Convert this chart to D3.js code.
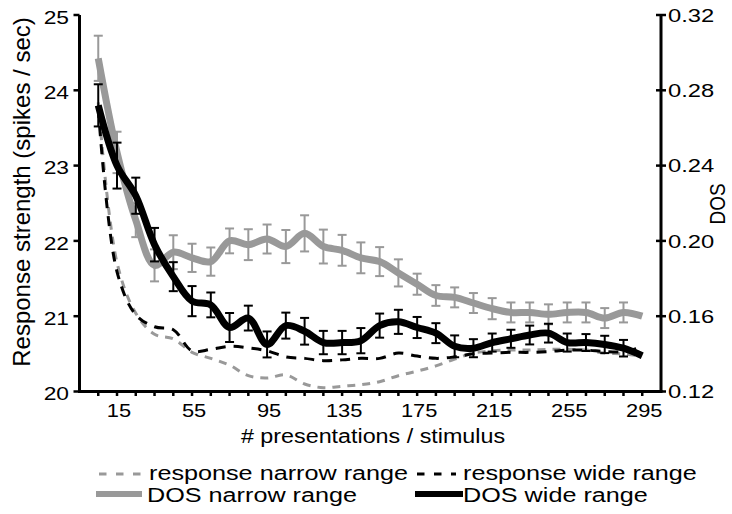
<!DOCTYPE html>
<html>
<head>
<meta charset="utf-8">
<script src="https://cdn.jsdelivr.net/npm/d3@7"></script>
<style>
  html, body { margin: 0; padding: 0; background: #fff; }
  svg { display: block; font-family: "Liberation Sans", Arial, sans-serif; }
</style>
</head>
<body>
<svg id="chart" width="732" height="514"></svg>
<script>
// Presentation bins (x positions)
const presentations = [5, 15, 25, 35, 45, 55, 65, 75, 85, 95, 105, 115, 125, 135, 145,
                       155, 165, 175, 185, 195, 205, 215, 225, 235, 245, 255, 265, 275, 285, 295];

// Response strength (spikes / sec), left axis
const responseNarrow = [23.84, 21.71, 21.04, 20.76, 20.70, 20.52, 20.44, 20.35, 20.21, 20.18,
                        20.22, 20.10, 20.05, 20.07, 20.09, 20.13, 20.21, 20.27, 20.34, 20.43,
                        20.51, 20.54, 20.55, 20.55, 20.56, 20.56, 20.55, 20.51, 20.50, 20.47];
const responseWide   = [23.76, 21.59, 21.02, 20.86, 20.82, 20.54, 20.56, 20.60, 20.58, 20.54,
                        20.46, 20.44, 20.41, 20.42, 20.44, 20.44, 20.51, 20.47, 20.44, 20.46,
                        20.50, 20.51, 20.52, 20.52, 20.53, 20.55, 20.55, 20.53, 20.53, 20.59];

// DOS, right axis, with error half-widths
const dosNarrow    = [0.297, 0.247, 0.211, 0.187, 0.194, 0.191, 0.189, 0.200, 0.198, 0.201,
                      0.197, 0.204, 0.197, 0.195, 0.191, 0.189, 0.183, 0.177, 0.171, 0.170,
                      0.167, 0.164, 0.162, 0.162, 0.161, 0.162, 0.162, 0.159, 0.162, 0.160];
const dosNarrowErr = [0.012, 0.011, 0.009, 0.0085, 0.009, 0.0075, 0.0075, 0.0066, 0.0082, 0.0077,
                      0.0088, 0.0096, 0.009, 0.0082, 0.0082, 0.0077, 0.0072, 0.0056, 0.0055, 0.0053,
                      0.0053, 0.0056, 0.0053, 0.0053, 0.0053, 0.0053, 0.0053, 0.0053, 0.0053, 0];
const dosWide      = [0.272, 0.240, 0.224, 0.198, 0.181, 0.168, 0.166, 0.154, 0.159, 0.145,
                      0.155, 0.152, 0.146, 0.146, 0.147, 0.155, 0.157, 0.154, 0.151, 0.144,
                      0.143, 0.146, 0.148, 0.150, 0.151, 0.146, 0.146, 0.145, 0.143, 0.139];
const dosWideErr   = [0.0112, 0.0122, 0.0096, 0.0089, 0.0077, 0.008, 0.0066, 0.0077, 0.0066, 0.0069,
                      0.0069, 0.0071, 0.0062, 0.0062, 0.0067, 0.0064, 0.0064, 0.0056, 0.0053, 0.0058,
                      0.0048, 0.0048, 0.0048, 0.005, 0.005, 0.0048, 0.0045, 0.0046, 0.0044, 0];

// Axis ticks and labels
const xTickLabels = [15, 55, 95, 135, 175, 215, 255, 295];
const leftTicks = [20, 21, 22, 23, 24, 25];
const rightTicks = [0.12, 0.16, 0.20, 0.24, 0.28, 0.32];
const seriesNames = ["response narrow range", "response wide range", "DOS narrow range", "DOS wide range"];

const GRAY = "#999999";
const svg = d3.select("#chart");

const x = d3.scaleLinear().domain([-5, 305]).range([79.5, 661]);
const yL = d3.scaleLinear().domain([20, 25]).range([391.5, 15]);
const yR = d3.scaleLinear().domain([0.12, 0.32]).range([391.5, 15]);

// text helper with horizontal glyph stretch
function label(g, str, tx, ty, opts) {
  const o = Object.assign({size: 19, sx: 1.15, anchor: "middle", rotate: 0}, opts || {});
  const t = g.append("text")
    .attr("transform", `translate(${tx},${ty}) scale(${o.sx},1)` + (o.rotate ? ` rotate(${o.rotate})` : ""))
    .attr("text-anchor", o.anchor)
    .attr("font-size", o.size)
    .attr("fill", "#000")
    .text(str);
  if (o.dy) t.attr("dy", o.dy);
  return t;
}

const curve = d3.curveCatmullRom.alpha(0.5);

const lineL = (vals) => d3.line().curve(curve).x((d, i) => x(presentations[i])).y(d => yL(d))(vals);
const lineR = (vals) => d3.line().curve(curve).x((d, i) => x(presentations[i])).y(d => yR(d))(vals);

// response lines (left axis)
svg.append("path").attr("d", lineL(responseNarrow))
  .attr("fill", "none").attr("stroke", GRAY).attr("stroke-width", 3)
  .attr("stroke-dasharray", "8,7");
svg.append("path").attr("d", lineL(responseWide))
  .attr("fill", "none").attr("stroke", "#000").attr("stroke-width", 3)
  .attr("stroke-dasharray", "10,8");

function errorBars(vals, errs, color) {
  const g = svg.append("g").attr("stroke", color).attr("stroke-width", 2);
  vals.forEach((v, i) => {
    if (!errs[i]) return;
    const cx = x(presentations[i]);
    const y1 = yR(v + errs[i]), y2 = yR(v - errs[i]);
    g.append("line").attr("x1", cx).attr("x2", cx).attr("y1", y1).attr("y2", y2);
    g.append("line").attr("x1", cx - 4.5).attr("x2", cx + 4.5).attr("y1", y1).attr("y2", y1);
    g.append("line").attr("x1", cx - 4.5).attr("x2", cx + 4.5).attr("y1", y2).attr("y2", y2);
  });
}

// DOS lines (right axis)
svg.append("path").attr("d", lineR(dosNarrow))
  .attr("fill", "none").attr("stroke", GRAY).attr("stroke-width", 7)
  .attr("stroke-linejoin", "round");
errorBars(dosNarrow, dosNarrowErr, GRAY);
svg.append("path").attr("d", lineR(dosWide))
  .attr("fill", "none").attr("stroke", "#000").attr("stroke-width", 7)
  .attr("stroke-linejoin", "round");
errorBars(dosWide, dosWideErr, "#000");

// axes
const ax = svg.append("g").attr("stroke", "#000");
ax.append("line").attr("x1", x(-5)).attr("x2", x(-5)).attr("y1", yL(25)).attr("y2", yL(20)).attr("stroke-width", 3);
ax.append("line").attr("x1", x(305)).attr("x2", x(305)).attr("y1", yR(0.32)).attr("y2", yR(0.12)).attr("stroke-width", 3);
ax.append("line").attr("x1", x(-5) - 1.5).attr("x2", x(305) + 1.5).attr("y1", yL(20)).attr("y2", yL(20)).attr("stroke-width", 3);

leftTicks.forEach(t => {
  ax.append("line").attr("x1", x(-5) - 6).attr("x2", x(-5)).attr("y1", yL(t)).attr("y2", yL(t)).attr("stroke-width", 2.5);
  label(svg, String(t), 69, yL(t) + 2, {anchor: "end", size: 19, sx: 1.2, dy: "0.35em"});
});
rightTicks.forEach(t => {
  ax.append("line").attr("x1", x(305) - 5).attr("x2", x(305) + 5).attr("y1", yR(t)).attr("y2", yR(t)).attr("stroke-width", 2.5);
  label(svg, t.toFixed(2), 668, yR(t), {anchor: "start", size: 19, sx: 1.25, dy: "0.35em"});
});
presentations.forEach(p => {
  ax.append("line").attr("x1", x(p)).attr("x2", x(p)).attr("y1", yL(20)).attr("y2", yL(20) + 4.5).attr("stroke-width", 2.5);
});
xTickLabels.forEach(t => {
  label(svg, String(t), x(t) + 2, 417, {size: 19, sx: 1.15});
});

// axis titles
label(svg, "# presentations / stimulus", 373, 443, {size: 21, sx: 1.11});
label(svg, "Response strength (spikes / sec)", 30, 192, {size: 24, sx: 1.0, rotate: -90});
label(svg, "DOS", 725, 204, {size: 19, sx: 1.2, rotate: -90});

// legend
const leg = svg.append("g");
leg.append("line").attr("x1", 99).attr("x2", 142).attr("y1", 474).attr("y2", 474)
  .attr("stroke", GRAY).attr("stroke-width", 3).attr("stroke-dasharray", "7.5,9.5");
label(leg, seriesNames[0], 149, 480, {anchor: "start", size: 21, sx: 1.2});
leg.append("line").attr("x1", 417).attr("x2", 456).attr("y1", 474).attr("y2", 474)
  .attr("stroke", "#000").attr("stroke-width", 3).attr("stroke-dasharray", "7.5,9.5");
label(leg, seriesNames[1], 463, 480, {anchor: "start", size: 21, sx: 1.2});
leg.append("line").attr("x1", 96).attr("x2", 142).attr("y1", 494).attr("y2", 494)
  .attr("stroke", GRAY).attr("stroke-width", 6);
label(leg, seriesNames[2], 147, 502, {anchor: "start", size: 21, sx: 1.2});
leg.append("line").attr("x1", 415).attr("x2", 463).attr("y1", 494).attr("y2", 494)
  .attr("stroke", "#000").attr("stroke-width", 6);
label(leg, seriesNames[3], 463, 502, {anchor: "start", size: 21, sx: 1.2});
</script>
</body>
</html>
